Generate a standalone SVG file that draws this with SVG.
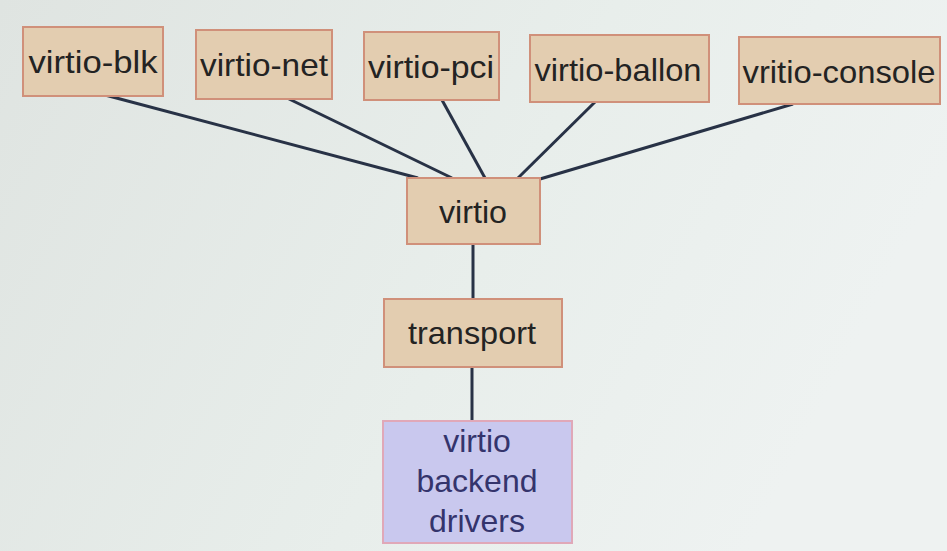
<svg xmlns="http://www.w3.org/2000/svg" width="947" height="551" viewBox="0 0 947 551">
<defs>
<linearGradient id="bg" x1="0" y1="0" x2="1" y2="0.3">
<stop offset="0" stop-color="#dfe4e1"/>
<stop offset="0.6" stop-color="#e8eeeb"/>
<stop offset="1" stop-color="#eef2f1"/>
</linearGradient>
<style>
.box{fill:#e3cdb0;stroke:#d0907a;stroke-width:2}
.back{fill:#c9c8ee;stroke:#e0a8b8;stroke-width:2}
.t{font-family:"Liberation Sans",Arial,sans-serif;font-size:32px;fill:#232323;text-anchor:middle}
.tb{font-family:"Liberation Sans",Arial,sans-serif;font-size:32px;fill:#34346c;text-anchor:middle}
.c{stroke:#283246;stroke-width:3;fill:none}
</style>
</defs>
<rect x="0" y="0" width="947" height="551" fill="url(#bg)"/>
<g id="connectors">
<line class="c" x1="105" y1="95" x2="418" y2="178"/>
<line class="c" x1="287" y1="98" x2="452" y2="178"/>
<line class="c" x1="442" y1="100" x2="485" y2="178"/>
<line class="c" x1="595" y1="102" x2="518" y2="178"/>
<line class="c" x1="793" y1="104" x2="540" y2="179"/>
<line class="c" x1="473" y1="244" x2="473" y2="299"/>
<line class="c" x1="472" y1="367" x2="472" y2="421"/>
</g>
<g id="virtio-blk">
<rect class="box" x="23" y="27" width="140" height="69"/>
<text class="t" x="93" y="73" textLength="129" lengthAdjust="spacingAndGlyphs">virtio-blk</text>
</g>
<g id="virtio-net">
<rect class="box" x="196" y="30" width="136" height="69"/>
<text class="t" x="264" y="76" textLength="128" lengthAdjust="spacingAndGlyphs">virtio-net</text>
</g>
<g id="virtio-pci">
<rect class="box" x="364" y="32" width="135" height="68"/>
<text class="t" x="431" y="78" textLength="126" lengthAdjust="spacingAndGlyphs">virtio-pci</text>
</g>
<g id="virtio-ballon">
<rect class="box" x="530" y="35" width="179" height="67"/>
<text class="t" x="618" y="81" textLength="167" lengthAdjust="spacingAndGlyphs">virtio-ballon</text>
</g>
<g id="vritio-console">
<rect class="box" x="739" y="37" width="201" height="67"/>
<text class="t" x="839" y="83" textLength="193" lengthAdjust="spacingAndGlyphs">vritio-console</text>
</g>
<g id="virtio">
<rect class="box" x="407" y="178" width="133" height="66"/>
<text class="t" x="473" y="223" textLength="68" lengthAdjust="spacingAndGlyphs">virtio</text>
</g>
<g id="transport">
<rect class="box" x="384" y="299" width="178" height="68"/>
<text class="t" x="472" y="344" textLength="128" lengthAdjust="spacingAndGlyphs">transport</text>
</g>
<g id="virtio-backend-drivers">
<rect class="back" x="383" y="421" width="189" height="122"/>
<text class="tb" x="477" y="452">virtio</text>
<text class="tb" x="477" y="492">backend</text>
<text class="tb" x="477" y="532">drivers</text>
</g>
</svg>
